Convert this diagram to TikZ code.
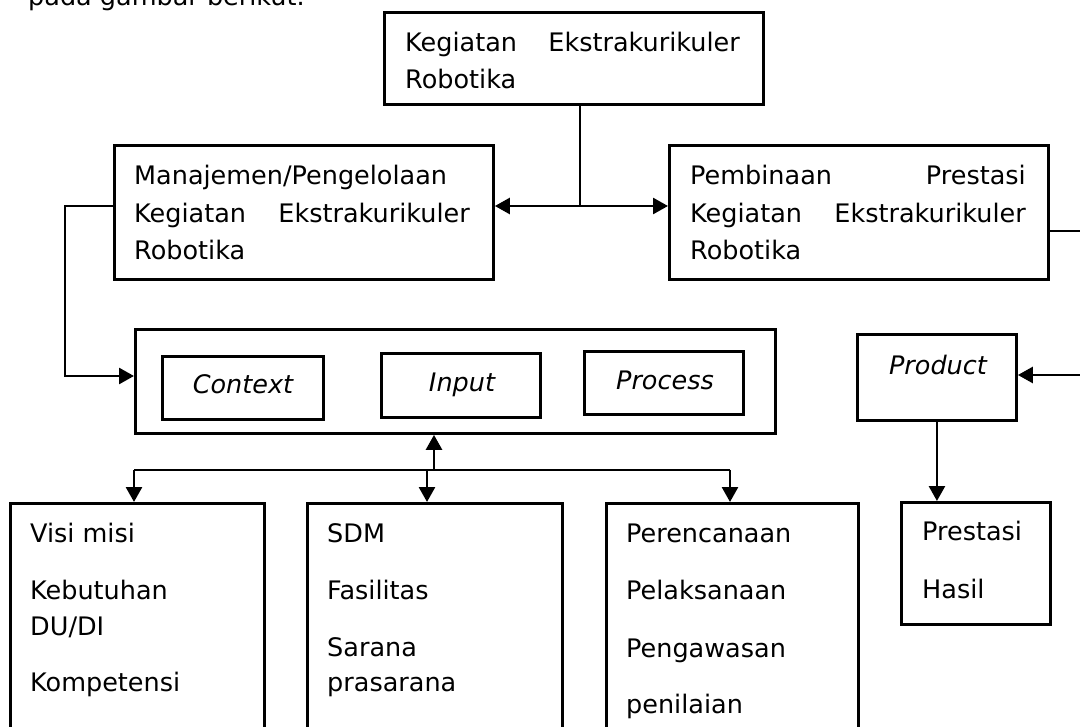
\documentclass[tikz,border=0pt]{standalone}
\usepackage{fontspec}
\setmainfont{DejaVu Sans}
\usetikzlibrary{arrows.meta}
\begin{document}
\begin{tikzpicture}[x=1pt,y=-1pt]
\tikzstyle{box}=[draw, line width=2.9pt, anchor=north west, inner sep=0pt]
\tikzstyle{txt}=[anchor=base west, inner sep=0pt, font=\fontsize{25.5}{30}\selectfont]
\tikzstyle{itxt}=[anchor=base, inner sep=0pt, font=\fontsize{25.5}{30}\selectfont\itshape]
\tikzstyle{wire}=[line width=2.7pt]
\tikzstyle{link}=[line width=2.7pt, -{Triangle[length=15pt,width=16pt]}]
\clip (0,0) rectangle (1080,727);
\fill[white] (0,0) rectangle (1080,727);
\node[txt] (lead) at (28,6) {pada gambar berikut.};
% boxes
\node[box, minimum width=379, minimum height=92] (kegiatan) at (383,11) {};
\node[box, minimum width=379, minimum height=134] (mgmt) at (113,144) {};
\node[box, minimum width=379, minimum height=134] (pembinaan) at (668,144) {};
\node[box, minimum width=640, minimum height=104] (cip) at (134,328) {};
\node[box, minimum width=161, minimum height=63] (context) at (161,355) {};
\node[box, minimum width=159, minimum height=64] (input) at (380,352) {};
\node[box, minimum width=159, minimum height=63] (process) at (583,350) {};
\node[box, minimum width=159, minimum height=86] (product) at (856,333) {};
\node[box, minimum width=254, minimum height=240] (visi) at (9,502) {};
\node[box, minimum width=255, minimum height=240] (sdm) at (306,502) {};
\node[box, minimum width=252, minimum height=240] (perencanaan) at (605,502) {};
\node[box, minimum width=149, minimum height=122] (prestasi) at (900,501) {};
% texts
\node[txt] (t1) at (405,52) {Kegiatan};
\node[txt, anchor=base east] (t2) at (740,52) {Ekstrakurikuler};
\node[txt] (t3) at (405,89) {Robotika};
\node[txt] (m1) at (134,185) {Manajemen/Pengelolaan};
\node[txt] (m2) at (134,223) {Kegiatan};
\node[txt, anchor=base east] (m3) at (470,223) {Ekstrakurikuler};
\node[txt] (m4) at (134,260) {Robotika};
\node[txt] (p1) at (690,185) {Pembinaan};
\node[txt, anchor=base east] (p2) at (1026,185) {Prestasi};
\node[txt] (p3) at (690,223) {Kegiatan};
\node[txt, anchor=base east] (p4) at (1026,223) {Ekstrakurikuler};
\node[txt] (p5) at (690,260) {Robotika};
\node[itxt] (c1) at (243,394) {Context};
\node[itxt] (i1) at (462,392) {Input};
\node[itxt] (r1) at (665,390) {Process};
\node[itxt] (d1) at (938,375) {Product};
\node[txt] (v1) at (30,542) {Visi misi};
\node[txt] (v2) at (30,599) {Kebutuhan};
\node[txt] (v3) at (30,635) {DU/DI};
\node[txt] (v4) at (30,691) {Kompetensi};
\node[txt] (s1) at (327,542) {SDM};
\node[txt] (s2) at (327,599) {Fasilitas};
\node[txt] (s3) at (327,656) {Sarana};
\node[txt] (s4) at (327,691) {prasarana};
\node[txt] (e1) at (626,542) {Perencanaan};
\node[txt] (e2) at (626,599) {Pelaksanaan};
\node[txt] (e3) at (626,657) {Pengawasan};
\node[txt] (e4) at (626,713) {penilaian};
\node[txt] (h1) at (922,540) {Prestasi};
\node[txt] (h2) at (922,598) {Hasil};
% connectors
\coordinate (j) at (580,206);
\coordinate (l) at (65,206);
\coordinate (l2) at (65,376);
\coordinate (r) at (1090,231);
\coordinate (r2) at (1090,375);
\coordinate (u) at (434,470);
\coordinate (b1) at (134,470);
\coordinate (b2) at (427,470);
\coordinate (b3) at (730,470);
\draw[wire] (kegiatan.south -| j) -- (j);
\draw[link] (j) -- (j -| mgmt.east);
\draw[link] (j) -- (j -| pembinaan.west);
\draw[link] (j -| mgmt.west) -- (l) -- (l2) -- (l2 -| cip.west);
\draw[link] (r -| pembinaan.east) -- (r) -- (r2) -- (r2 -| product.east);
\draw[link] (u) -- (u |- cip.south);
\draw[line width=1.5pt] (b1) -- (b3);
\draw[link] (b1) -- (b1 |- visi.north);
\draw[link] (b2) -- (b2 |- sdm.north);
\draw[link] (b3) -- (b3 |- perencanaan.north);
\draw[link] (product.south) -- (product.south |- prestasi.north);
\end{tikzpicture}
\end{document}
